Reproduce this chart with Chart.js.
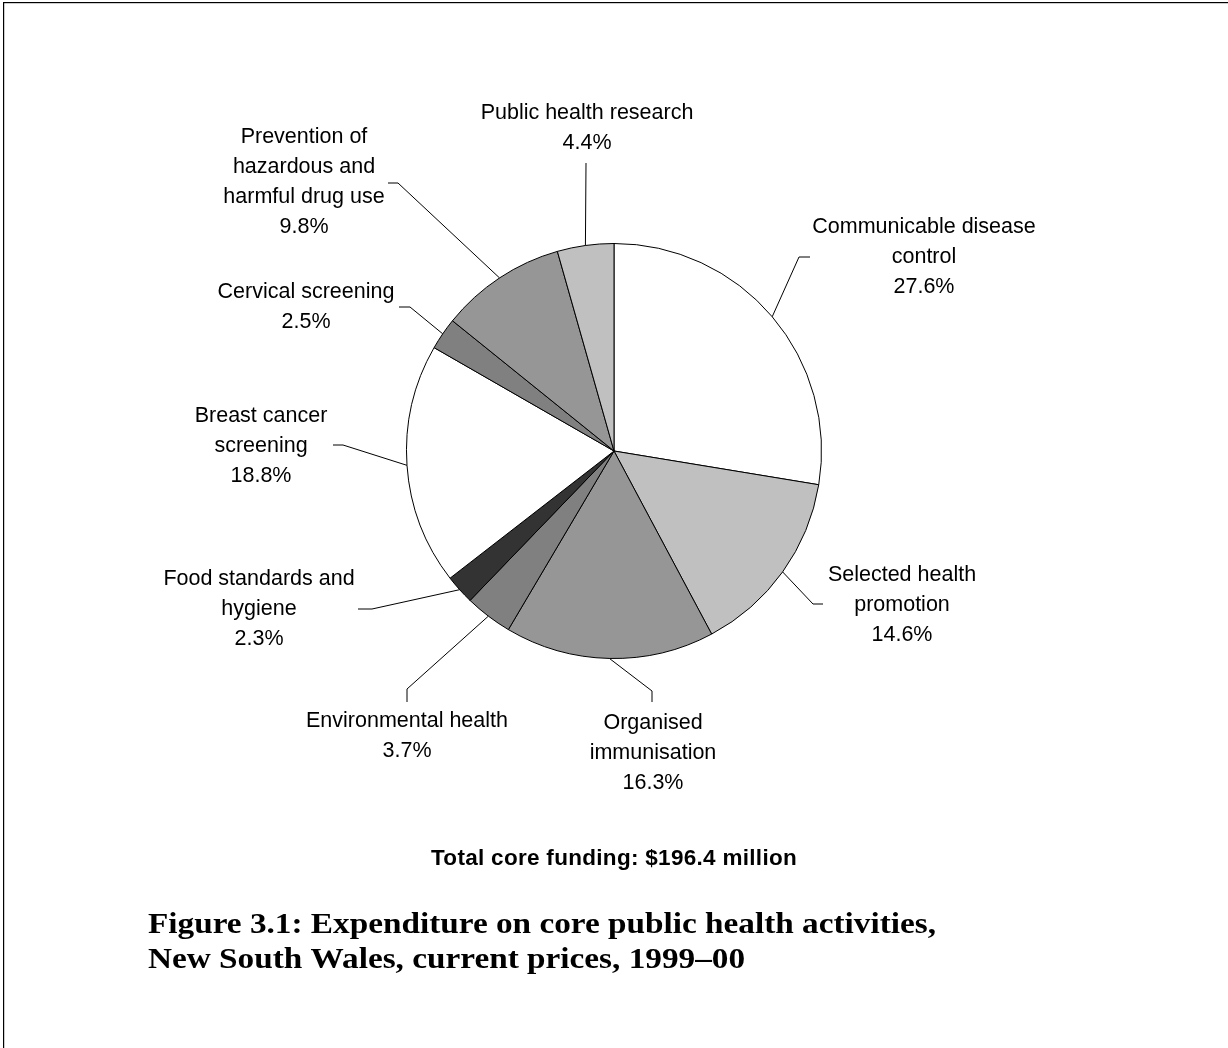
<!DOCTYPE html>
<html>
<head>
<meta charset="utf-8">
<script src="https://cdn.jsdelivr.net/npm/chart.js@4/dist/chart.umd.min.js"></script>
<style>
  html, body { margin: 0; padding: 0; background: #fff; }
  #wrap { position: relative; width: 1228px; height: 1048px; }
  canvas { display: block; }
</style>
</head>
<body>
<div id="wrap"><canvas id="pie" width="1228" height="1048"></canvas></div>
<script>
// Core public health expenditure shares, NSW 1999-00 (clockwise from 12 o'clock)
const categories = [
  "Communicable disease control",
  "Selected health promotion",
  "Organised immunisation",
  "Environmental health",
  "Food standards and hygiene",
  "Breast cancer screening",
  "Cervical screening",
  "Prevention of hazardous and harmful drug use",
  "Public health research"
];
const shares = [27.6, 14.6, 16.3, 3.7, 2.3, 18.8, 2.5, 9.8, 4.4];

// How each category name is broken over lines in its callout
const labelLines = [
  ["Communicable disease", "control"],
  ["Selected health", "promotion"],
  ["Organised", "immunisation"],
  ["Environmental health"],
  ["Food standards and", "hygiene"],
  ["Breast cancer", "screening"],
  ["Cervical screening"],
  ["Prevention of", "hazardous and", "harmful drug use"],
  ["Public health research"]
];

const subtitleText = "Total core funding: $196.4 million";
const captionLines = [
  "Figure 3.1: Expenditure on core public health activities,",
  "New South Wales, current prices, 1999\u201300"
];

// Slice fills
const sliceColors = ["#ffffff", "#c0c0c0", "#969696", "#808080", "#333333",
                     "#ffffff", "#808080", "#969696", "#c0c0c0"];

// Callout geometry, in pixels relative to the pie centre:
// elbow = bend of the leader, end = leader tip, text = [centre x, first baseline]
const callouts = [
  { elbow: [185, -194], end: [196, -194], text: [310, -218] },
  { elbow: [199, 153],  end: [209, 153],  text: [288, 130] },
  { elbow: [38, 240],   end: [38, 251],   text: [39, 278] },
  { elbow: [-207, 238], end: [-207, 251], text: [-207, 276] },
  { elbow: [-242, 158], end: [-256, 158], text: [-355, 134] },
  { elbow: [-271, -6],  end: [-281, -6],  text: [-353, -29] },
  { elbow: [-204, -144],end: [-215, -144],text: [-308, -153] },
  { elbow: [-216, -268],end: [-226, -268],text: [-310, -308] },
  { elbow: [-28, -288], end: [-28, -288], text: [-27, -332] }
];

const LABEL_FONT = "21.5px 'Liberation Sans', Arial, sans-serif";
const LINE_H = 30;
const CAPTION_WIDTH = 788;

const calloutPlugin = {
  id: "callouts",
  afterDraw(chart) {
    const ctx = chart.ctx;
    const meta = chart.getDatasetMeta(0);
    ctx.save();

    // leader lines
    ctx.strokeStyle = "#000";
    ctx.lineWidth = 1;
    meta.data.forEach((arc, i) => {
      const p = arc.getProps(["x", "y", "startAngle", "endAngle", "outerRadius"], true);
      const mid = (p.startAngle + p.endAngle) / 2;
      const sx = p.x + Math.cos(mid) * p.outerRadius;
      const sy = p.y + Math.sin(mid) * p.outerRadius;
      const c = callouts[i];
      ctx.beginPath();
      ctx.moveTo(sx, sy);
      ctx.lineTo(p.x + c.elbow[0], p.y + c.elbow[1]);
      ctx.lineTo(p.x + c.end[0], p.y + c.end[1]);
      ctx.stroke();

      // label text + percentage
      ctx.fillStyle = "#000";
      ctx.font = LABEL_FONT;
      ctx.textAlign = "center";
      ctx.textBaseline = "alphabetic";
      const lines = labelLines[i].concat([shares[i].toFixed(1) + "%"]);
      lines.forEach((t, k) => {
        ctx.fillText(t, p.x + c.text[0], p.y + c.text[1] + k * LINE_H);
      });
    });

    // total funding note
    ctx.font = "bold 22.5px 'Liberation Sans', Arial, sans-serif";
    ctx.letterSpacing = "0.3px";
    ctx.textAlign = "center";
    ctx.fillText(subtitleText, 614, 865);
    ctx.letterSpacing = "0px";

    // figure caption, widened to the caption block width
    ctx.font = "bold 30px 'Liberation Serif', 'Times New Roman', serif";
    ctx.textAlign = "left";
    const w = ctx.measureText(captionLines[0]).width;
    const sx = CAPTION_WIDTH / w;
    ctx.save();
    ctx.translate(148, 0);
    ctx.scale(sx, 1);
    ctx.fillText(captionLines[0], 0, 933);
    ctx.fillText(captionLines[1], 0, 968);
    ctx.restore();

    // frame edges
    ctx.fillStyle = "#000";
    ctx.fillRect(3, 2, chart.width - 3, 1.2);
    ctx.fillRect(3, 2, 1.2, chart.height - 2);
    ctx.restore();
  }
};

new Chart(document.getElementById("pie"), {
  type: "pie",
  data: {
    labels: categories,
    datasets: [{
      data: shares,
      backgroundColor: sliceColors,
      borderColor: "#000",
      borderWidth: 1
    }]
  },
  options: {
    responsive: false,
    devicePixelRatio: 1,
    animation: false,
    layout: { padding: { left: 406, right: 406, top: 243, bottom: 389 } },
    plugins: {
      legend: { display: false },
      tooltip: { enabled: false },
      title: { display: false }
    }
  },
  plugins: [calloutPlugin]
});
</script>
</body>
</html>
